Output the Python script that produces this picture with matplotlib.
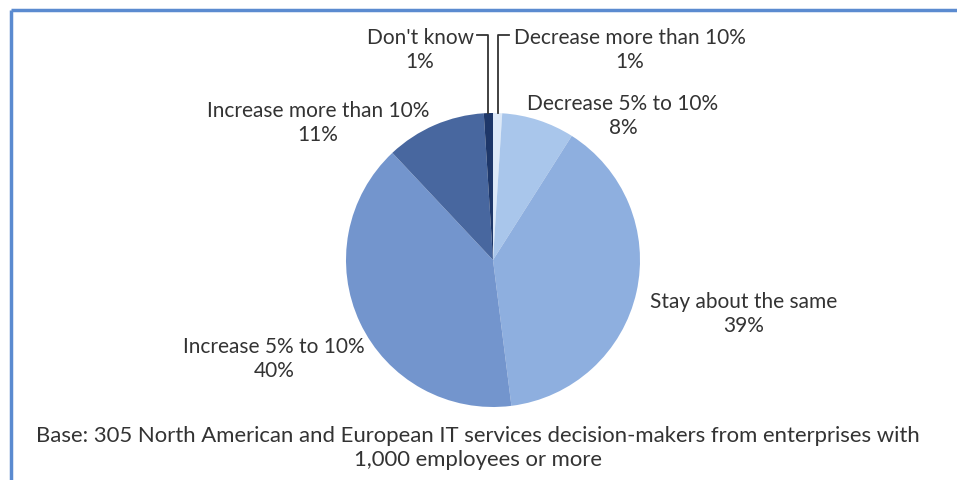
import numpy as np
import matplotlib.pyplot as plt

# Survey answers, clockwise from the top
labels = ['Decrease more than 10%', 'Decrease 5% to 10%', 'Stay about the same',
          'Increase 5% to 10%', 'Increase more than 10%', "Don't know"]
values = [1, 8, 39, 40, 11, 1]
colors = ['#dde9f8', '#a9c6eb', '#8eafdf', '#7395cd', '#48679f', '#1e3769']

footer = ('Base: 305 North American and European IT services decision-makers from enterprises with\n'
          '1,000 employees or more')

W, H = 957, 481
fig = plt.figure(figsize=(W / 100, H / 100), dpi=100)
ax = fig.add_axes([0, 0, 1, 1])

cx, cy, r = 493, H - 261, 147
wedges, _ = ax.pie(values, colors=colors, startangle=90, counterclock=False,
                   center=(cx, cy), radius=r, frame=True,
                   wedgeprops=dict(linewidth=0))
ax.set_xlim(0, W)
ax.set_ylim(0, H)
ax.set_aspect('equal')
ax.axis('off')

txt = dict(fontsize=15, color='#333333', ha='center', va='center',
           family=['Lato', 'DejaVu Sans'], linespacing=1.25)

def lab(i, x, y):
    ax.text(x, H - y, f'{labels[i]}\n{values[i]}%', **txt)

# small slices at the top get bracket leader lines
for i, side in [(0, 1), (5, -1)]:
    w = wedges[i]
    mid = np.deg2rad((w.theta1 + w.theta2) / 2)
    x0 = cx + r * np.cos(mid)
    top = H - 36
    ax.plot([x0, x0, x0 + side * 11], [cy + r * np.sin(mid), top, top],
            color='#333333', lw=1.3)

lab(5, 420, 50)
lab(0, 630, 50)
lab(1, 623, 116)
lab(4, 318, 123)
lab(2, 744, 314)
lab(3, 274, 359)

ax.text(478, H - 448, footer, **dict(txt, fontsize=15.9))

# blue frame on the top and left
ax.plot([11, W], [H - 11, H - 11], color='#5b8bd0', lw=2.5, solid_capstyle='butt')
ax.plot([11, 11], [H - 11, 0], color='#5b8bd0', lw=2.5, solid_capstyle='butt')

fig.savefig('out.png', dpi=100)
